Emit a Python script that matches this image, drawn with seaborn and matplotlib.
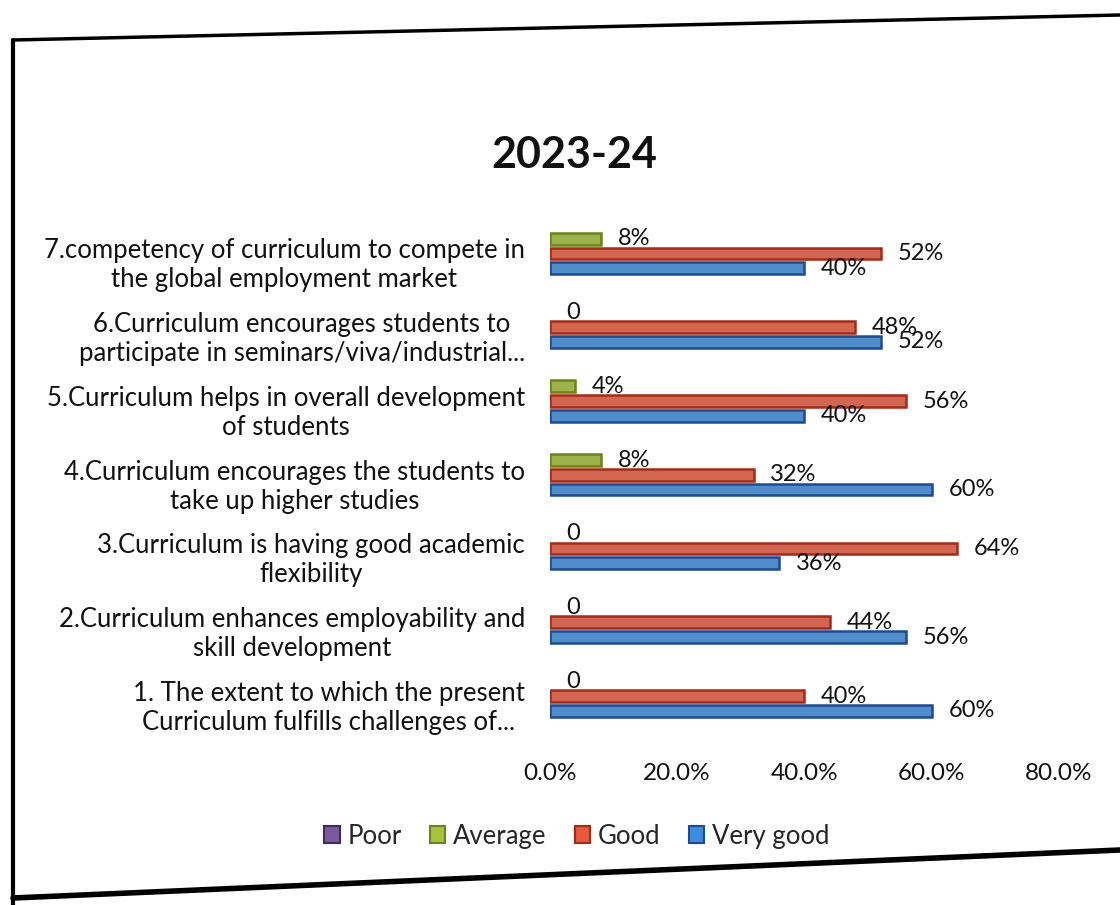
import matplotlib
matplotlib.use("Agg")
import matplotlib.pyplot as plt
from matplotlib.patches import Patch
from matplotlib.lines import Line2D
import seaborn as sns
import pandas as pd

categories = [
    "1. The extent to which the present\nCurriculum fulfills challenges of...",
    "2.Curriculum enhances employability and\nskill development",
    "3.Curriculum is having good academic\nflexibility",
    "4.Curriculum encourages the students to\ntake up higher studies",
    "5.Curriculum helps in overall development\nof students",
    "6.Curriculum encourages students to\nparticipate in seminars/viva/industrial...",
    "7.competency of curriculum to compete in\nthe global employment market",
]
poor = [0, 0, 0, 0, 0, 0, 0]
average = [0, 0, 0, 8, 4, 0, 8]
good = [40, 44, 64, 32, 56, 48, 52]
very_good = [60, 56, 36, 60, 40, 52, 40]
series_names = ["Poor", "Average", "Good", "Very good"]
x_ticks = [0, 20, 40, 60, 80]
x_tick_labels = ["0.0%", "20.0%", "40.0%", "60.0%", "80.0%"]
title = "2023-24"

rows = []
for name, vals in zip(series_names, [poor, average, good, very_good]):
    for c, v in zip(categories, vals):
        rows.append({"Category": c, "Series": name, "Value": v})
df = pd.DataFrame(rows)

fills = {"Poor": "#7a5a9c", "Average": "#a6c43a", "Good": "#e8583a", "Very good": "#3a8ee0"}
edges = {"Poor": "#3e2a5e", "Average": "#6a8418", "Good": "#a82a14", "Very good": "#1c4a96"}

sns.set_theme(style="white")
plt.rcParams["font.family"] = ["Lato", "DejaVu Sans"]

fig = plt.figure(figsize=(11.2, 9.05), dpi=100)
ax = fig.add_axes([0.491, 0.182, 0.4545, 0.5705])

draw_order = ["Average", "Good", "Very good", "Poor"]
sns.barplot(data=df, y="Category", x="Value", hue="Series", order=categories[::-1],
            hue_order=draw_order, palette=fills, orient="h", width=0.8, gap=0.2,
            linewidth=1.8, legend=False, ax=ax)

for cont, name in zip(ax.containers, draw_order):
    for p, v in zip(cont, cont.datavalues):
        p.set_edgecolor(edges[name])
        if v == 0:
            p.set_visible(False)
    if name == "Poor":
        continue
    labels = [("0" if v == 0 else f"{v:g}%") for v in cont.datavalues]
    ax.bar_label(cont, labels=labels, padding=12, fontsize=17, color="#111111")

ax.set_xlim(0, 80)
ax.set_xticks(x_ticks)
ax.set_xticklabels(x_tick_labels, fontsize=17.5)
ax.set_xlabel("")
ax.set_ylabel("")
for lab in ax.get_yticklabels():
    lab.set_multialignment("center")
    lab.set_fontsize(18.5)
    lab.set_color("#111111")
ax.tick_params(axis="x", length=0, pad=16, colors="#111111")
ax.tick_params(axis="y", length=0, pad=18)
for s in ax.spines.values():
    s.set_visible(False)

fig.text(0.513, 1 - 155 / 905, title, ha="center", va="center", fontsize=31,
         fontweight="bold", color="#111111")

handles = [Patch(facecolor=fills[n], edgecolor=edges[n], linewidth=1.5) for n in series_names]
fig.legend(handles, series_names, loc="center", bbox_to_anchor=(0.515, 1 - 836 / 905),
           ncol=4, frameon=False, fontsize=18.5, handlelength=0.6, handleheight=0.6,
           handletextpad=0.3, columnspacing=1.1)

# photographed chart frame
W, H = 1120, 905
def fx(x): return x / W
def fy(y): return 1 - y / H
fig.add_artist(Line2D([fx(13), fx(1120)], [fy(40), fy(15)], color="black", lw=2.5))
fig.add_artist(Line2D([fx(13), fx(13)], [fy(40), fy(905)], color="black", lw=3))
fig.add_artist(Line2D([fx(13), fx(1120)], [fy(898), fy(850)], color="black", lw=4))

fig.savefig("out.png", dpi=100)
